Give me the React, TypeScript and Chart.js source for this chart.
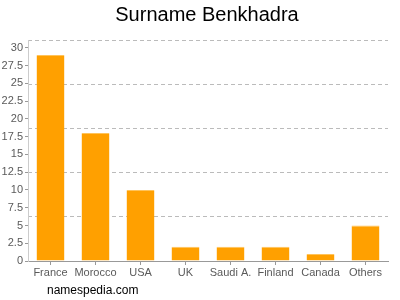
import React, { useEffect, useRef } from "react";
import { Chart, registerables } from "chart.js";

Chart.register(...registerables);

const categories = ["France", "Morocco", "USA", "UK", "Saudi A.", "Finland", "Canada", "Others"];
const counts = [29, 18, 10, 2, 2, 2, 1, 5];
const yTicks = [0, 2.5, 5, 7.5, 10, 12.5, 15, 17.5, 20, 22.5, 25, 27.5, 30];
const yMax = 31.1;
const gridDivisions = 5;
const titleText = "Surname Benkhadra";
const footerText = "namespedia.com";

const FONT = "'Liberation Sans', Arial, Helvetica, sans-serif";

export default function App() {
  const ref = useRef<HTMLCanvasElement | null>(null);

  useEffect(() => {
    document.body.style.margin = "0";
    const canvas = ref.current;
    if (!canvas) return;

    const textPlugin = {
      id: "extraText",
      afterDraw(chart: any) {
        const ctx = chart.ctx;
        const area = chart.chartArea;
        ctx.save();
        ctx.font = `20px ${FONT}`;
        ctx.fillStyle = "#000";
        ctx.textAlign = "center";
        ctx.textBaseline = "middle";
        ctx.fillText(titleText, (area.left + area.right) / 2 - 1, 15);
        ctx.font = `12px ${FONT}`;
        ctx.textAlign = "left";
        ctx.fillText(footerText, 47, 291);
        ctx.restore();
      },
    };

    const chart = new Chart(canvas, {
      type: "bar",
      data: {
        labels: categories,
        datasets: [
          {
            data: counts,
            backgroundColor: "#FFA000",
            borderColor: "#FFC35A",
            borderWidth: { top: 1, left: 0, right: 0, bottom: 0 },
            borderSkipped: "bottom",
            categoryPercentage: 1,
            barPercentage: 0.62,
          },
        ],
      },
      options: {
        responsive: false,
        animation: false,
        events: [],
        layout: { padding: { left: 0, right: 0, top: 40, bottom: 0 } },
        plugins: {
          legend: { display: false },
          tooltip: { enabled: false },
          title: { display: false },
        },
        scales: {
          x: {
            afterFit(scale: any) {
              scale.height = 39;
            },
            grid: {
              display: true,
              drawOnChartArea: false,
              drawTicks: true,
              tickLength: 4,
              offset: false,
              color: "#999",
            },
            border: { display: true, color: "#999" },
            ticks: {
              color: "#5a5a5a",
              font: { family: FONT, size: 11 },
              padding: 1,
              maxRotation: 0,
              autoSkip: false,
            },
          },
          y: {
            min: 0,
            max: yMax,
            afterFit(scale: any) {
              scale.width = 28;
            },
            afterBuildTicks(scale: any) {
              scale.ticks = yTicks.map((v) => ({ value: v }));
            },
            grid: {
              display: true,
              drawOnChartArea: false,
              drawTicks: true,
              tickLength: 3,
              color: "#999",
            },
            border: { display: true, color: "#ccc" },
            ticks: {
              color: "#5a5a5a",
              font: { family: FONT, size: 11 },
              padding: 2,
              callback: (v: any) => String(v),
            },
          },
          yGrid: {
            type: "linear",
            position: "right",
            min: 0,
            max: yMax,
            afterFit(scale: any) {
              scale.width = 12;
            },
            afterBuildTicks(scale: any) {
              const arr = [];
              for (let i = 0; i <= gridDivisions; i++) arr.push({ value: (yMax * i) / gridDivisions });
              scale.ticks = arr;
            },
            grid: {
              display: true,
              drawOnChartArea: true,
              drawTicks: false,
              color: "#bbb",
              lineWidth: 1,
            },
            border: { display: false, dash: [4, 3] },
            ticks: { display: false },
          },
        },
      } as any,
      plugins: [textPlugin],
    });

    return () => chart.destroy();
  }, []);

  return <canvas ref={ref} width={400} height={300} style={{ display: "block", width: 400, height: 300 }} />;
}
